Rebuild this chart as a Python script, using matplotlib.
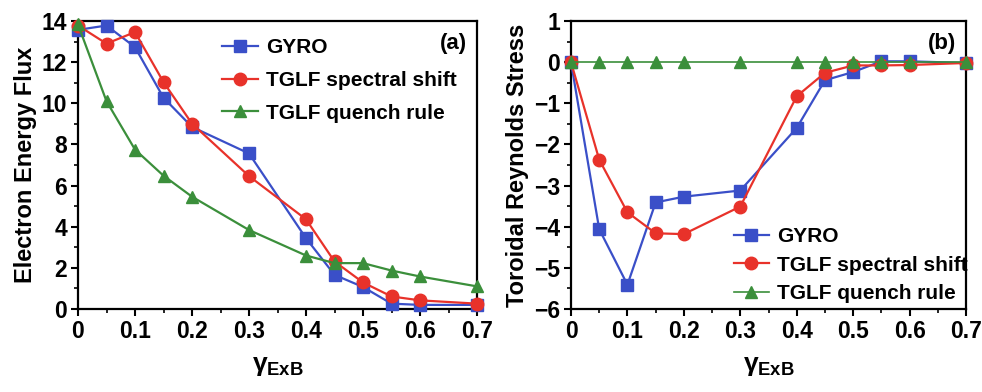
import matplotlib
matplotlib.use("Agg")
import matplotlib.pyplot as plt
from matplotlib.ticker import MultipleLocator

plt.rcParams['font.family'] = ['Liberation Sans', 'DejaVu Sans']
plt.rcParams['font.weight'] = 'bold'
plt.rcParams['axes.labelweight'] = 'bold'
plt.rcParams['mathtext.fontset'] = 'custom'
plt.rcParams['mathtext.rm'] = 'Liberation Sans:bold'
plt.rcParams['mathtext.bf'] = 'Liberation Sans:bold'
plt.rcParams['mathtext.it'] = 'Liberation Sans:bold'

gamma = [0, 0.05, 0.1, 0.15, 0.2, 0.3, 0.4, 0.45, 0.5, 0.55, 0.6, 0.7]

flux_gyro = [13.57, 13.78, 12.73, 10.27, 8.85, 7.56, 3.44, 1.66, 1.07, 0.26, 0.2, 0.2]
flux_shift = [13.78, 12.9, 13.46, 11.03, 9.01, 6.46, 4.36, 2.31, 1.29, 0.61, 0.42, 0.26]
flux_quench = [13.83, 10.1, 7.75, 6.48, 5.46, 3.84, 2.6, 2.23, 2.23, 1.87, 1.58, 1.1]

stress_gyro = [0.0, -4.06, -5.41, -3.41, -3.27, -3.12, -1.6, -0.44, -0.24, 0.02, 0.02, -0.02]
stress_shift = [0.0, -2.37, -3.65, -4.16, -4.18, -3.51, -0.83, -0.26, -0.08, -0.08, -0.07, -0.02]
stress_quench = [0.0, 0.0, 0.0, 0.0, 0.0, 0.0, 0.0, 0.0, 0.0, 0.0, 0.0, 0.0]

xticks = [0, 0.1, 0.2, 0.3, 0.4, 0.5, 0.6, 0.7]
xticklabels = ['0', '0.1', '0.2', '0.3', '0.4', '0.5', '0.6', '0.7']
yticks1 = [0, 2, 4, 6, 8, 10, 12, 14]
yticks2 = [-6, -5, -4, -3, -2, -1, 0, 1]

labels = ['GYRO', 'TGLF spectral shift', 'TGLF quench rule']
colors = ['#3a4fc8', '#e8322a', '#3b8f3b']
markers = ['s', 'o', '^']

fig = plt.figure(figsize=(9.82, 3.92), dpi=100)
ax1 = fig.add_axes([78/982, 1-309/392, (477-78)/982, (309-21)/392])
ax2 = fig.add_axes([571/982, 1-309/392, (966-571)/982, (309-21)/392])

def style(ax, ylim, yticks, ymin):
    ax.set_xlim(0, 0.7)
    ax.set_ylim(*ylim)
    ax.set_xticks(xticks)
    ax.set_xticklabels(xticklabels)
    ax.xaxis.set_minor_locator(MultipleLocator(0.05))
    ax.set_yticks(yticks)
    ax.set_yticklabels([str(v).replace('-', '\u2212') for v in yticks])
    ax.yaxis.set_minor_locator(MultipleLocator(ymin))
    ax.tick_params(which='major', direction='out', length=5, width=1.5, labelsize=16.5, pad=3)
    ax.tick_params(which='minor', direction='out', length=3, width=1.2)
    for s in ax.spines.values():
        s.set_linewidth(1.6)
    ax.set_xlabel(r'$\gamma_{\mathbf{ExB}}$', fontsize=19, labelpad=8)

series1 = [flux_gyro, flux_shift, flux_quench]
series2 = [stress_gyro, stress_shift, stress_quench]

for ys, lab, c, m in zip(series1, labels, colors, markers):
    ax1.plot(gamma, ys, color=c, marker=m, markersize=9 if m != '^' else 8.5,
             linewidth=1.6, label=lab, clip_on=False, zorder=3)
for ys, lab, c, m in zip(series2, labels, colors, markers):
    lw = 1.6 if m != '^' else 1.2
    ax2.plot(gamma, ys, color=c, marker=m, markersize=9 if m != '^' else 8.5,
             linewidth=lw, label=lab, clip_on=False, zorder=3)

style(ax1, (0, 14), yticks1, 1)
ax1.set_ylabel('Electron Energy Flux', fontsize=17, labelpad=3)
style(ax2, (-6, 1), yticks2, 0.5)
ax2.set_ylabel('Toroidal Reynolds Stress', fontsize=17, labelpad=3)

ax1.text(0.975, 0.96, '(a)', transform=ax1.transAxes, ha='right', va='top', fontsize=16)
ax2.text(0.975, 0.96, '(b)', transform=ax2.transAxes, ha='right', va='top', fontsize=16)

leg_kw = dict(frameon=False, fontsize=15, handlelength=1.7, handletextpad=0.4, borderpad=0.2)
ax1.legend(loc='upper left', bbox_to_anchor=(0.325, 0.99), labelspacing=0.65, **leg_kw)
ax2.legend(loc='lower left', bbox_to_anchor=(0.375, -0.03), labelspacing=0.45, **leg_kw)

fig.savefig('out.png', dpi=100)
